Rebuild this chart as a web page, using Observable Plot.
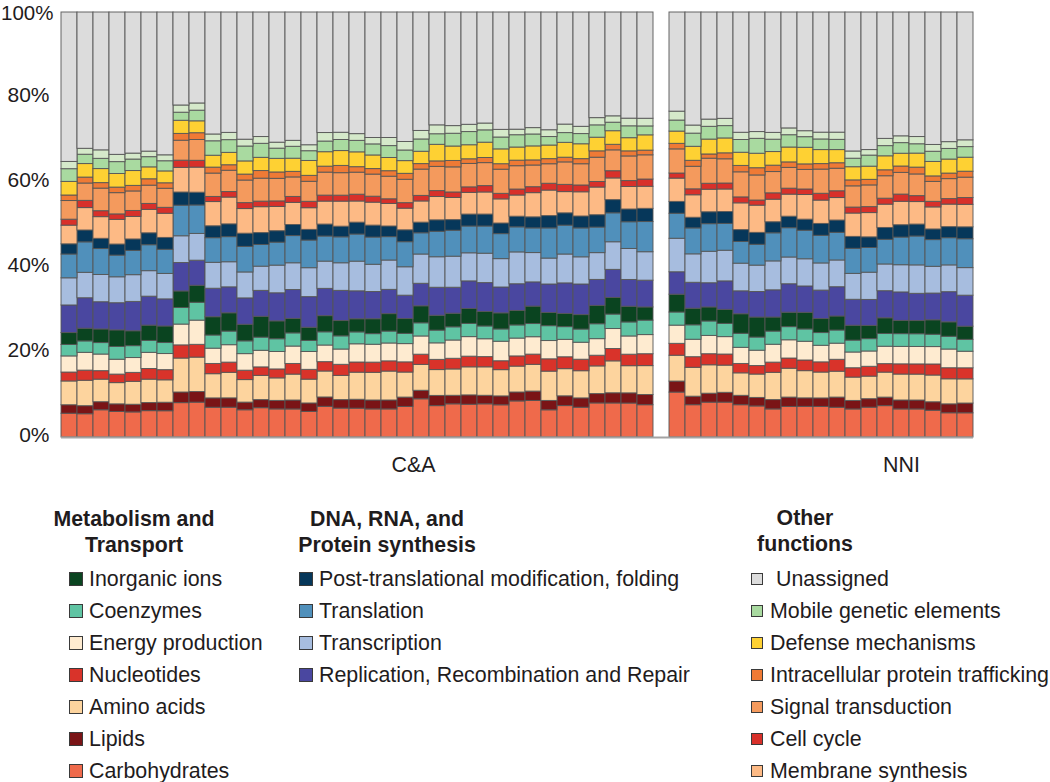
<!DOCTYPE html>
<html><head><meta charset="utf-8">
<script src="https://cdn.jsdelivr.net/npm/d3@7"></script>
<script src="https://cdn.jsdelivr.net/npm/@observablehq/plot@0.6"></script>
<style>
body{margin:0;background:#fff;font-family:"Liberation Sans",Arial,sans-serif;color:#1f1c1d;}
#wrap{position:relative;width:1050px;height:782px;overflow:hidden;}
#chart{position:absolute;left:0;top:0;}
.lg-head{position:absolute;font-weight:bold;font-size:21.3px;line-height:26px;text-align:center;white-space:nowrap;transform:translateX(-50%);}
.lg-item{position:absolute;font-size:21.4px;white-space:nowrap;height:24px;line-height:24px;}
.sw{position:absolute;box-sizing:border-box;border:1px solid #3a3a3a;}
</style></head>
<body><div id="wrap"><div id="chart"></div></div>
<script>
// ---- groups / samples ----
const groups = ["C&A", "NNI"];
const groupSizes = [37, 19];

// ---- series (bottom to top of each stack) ----
const seriesNames = [
  "Carbohydrates", "Lipids", "Amino acids", "Nucleotides", "Energy production", "Coenzymes", "Inorganic ions",
  "Replication, Recombination and Repair", "Transcription", "Translation", "Post-translational modification, folding",
  "Membrane synthesis", "Cell cycle", "Signal transduction", "Intracellular protein trafficking",
  "Defense mechanisms", "Mobile genetic elements", "Other (unlabelled)", "Unassigned"
];
const seriesColors = [
  "#ef6a4b", "#7a1416", "#fdd49e", "#d9332a", "#feebd0", "#5fc4a3", "#0a4420",
  "#4a47a0", "#a7bddf", "#5090bb", "#06375a",
  "#fdba85", "#d8302a", "#f49a5d", "#ef7a35",
  "#fed133", "#a9daa0", "#d5e9ca", "#dcdcdc"
];

// ---- values (%), 37 C&A samples then 19 NNI samples ----
const carbohydrates = [5.6,5.5,6.4,6.0,5.9,6.2,6.2,8.1,8.2,7.0, 7.0,6.4,6.9,6.6,6.6,6.0,7.2,6.8,6.8,6.6, 6.6,7.2,9.0,7.4,7.8,7.7,7.8,7.6,8.5,8.6, 6.4,7.4,7.0,8.0,8.0,8.0,7.6,
  10.6,7.6,8.2,8.2,7.6,7.3,6.6,7.2,7.2,7.2, 7.0,6.6,7.0,7.4,6.6,6.6,6.3,5.7,5.7];
const lipids = [2.0,1.9,1.9,1.8,1.8,1.9,2.0,2.5,2.5,2.2, 2.2,1.8,1.9,2.0,2.1,2.0,2.2,2.0,2.1,2.1, 2.1,2.2,2.0,2.4,2.0,2.2,2.0,2.1,2.1,2.2, 2.2,2.3,2.2,2.2,2.4,2.4,2.4,
  2.6,2.0,2.1,2.3,2.2,2.0,2.2,2.2,2.0,2.0, 2.4,2.0,2.0,2.0,2.1,2.1,2.0,2.1,2.3];
const aminoAcids = [5.6,6.0,5.3,5.0,5.4,5.5,5.3,8.0,8.1,5.7, 6.0,5.3,5.7,5.3,6.1,5.6,6.1,5.7,6.4,6.5, 6.8,5.9,6.1,6.1,6.2,6.6,6.7,6.2,6.1,6.3, 6.9,6.4,6.4,6.5,7.5,6.4,6.8,
  6.1,6.8,6.7,6.4,5.3,5.5,6.4,6.8,6.4,6.1, 6.1,5.5,5.3,5.9,6.1,6.1,6.3,5.9,5.7];
const nucleotides = [2.1,2.4,2.0,2.0,2.1,2.5,2.4,3.1,3.0,2.4, 2.4,2.2,2.0,2.1,2.5,2.3,2.2,2.6,2.4,2.4, 2.4,2.4,2.4,2.4,2.5,2.5,2.4,2.1,2.4,2.4, 2.9,2.8,2.7,2.5,2.9,2.7,2.8,
  2.8,2.5,2.6,2.6,2.2,2.0,2.4,2.4,2.5,2.4, 2.8,2.2,2.3,2.0,2.4,2.4,2.6,2.6,2.6];
const energyProduction = [3.8,4.2,3.9,3.5,3.5,3.8,3.8,4.9,5.7,3.6, 4.1,3.9,3.9,4.1,4.1,4.2,3.9,3.6,4.3,4.2, 4.2,4.3,4.3,3.9,4.3,4.6,4.2,4.6,4.2,4.1, 4.3,4.1,4.0,3.9,4.7,4.3,4.5,
  4.3,4.1,4.3,4.1,3.8,3.6,4.2,4.3,4.4,3.9, 3.8,3.7,3.6,4.1,4.1,4.1,4.1,4.4,3.9];
const coenzymes = [2.7,2.7,2.7,3.0,2.8,2.8,2.6,3.9,4.2,3.1, 3.2,3.0,3.1,3.0,3.1,2.6,3.1,3.1,2.8,2.5, 2.8,2.4,3.1,3.0,3.1,3.1,3.0,2.9,3.1,3.1, 3.5,3.0,3.1,3.5,3.4,3.3,3.4,
  3.1,3.4,3.4,3.1,3.3,3.1,3.1,3.1,2.9,3.0, 3.1,2.8,2.9,3.0,3.0,3.0,2.9,3.0,2.8];
const inorganicIons = [2.8,3.0,3.2,3.9,3.5,3.6,3.9,3.9,4.0,4.3, 4.3,3.9,4.9,4.2,3.4,3.1,3.8,3.6,3.1,3.5, 4.1,3.5,4.0,3.5,3.2,3.5,3.4,3.8,3.4,4.1, 3.1,3.1,3.4,4.3,3.9,3.7,3.1,
  4.2,3.9,3.3,3.3,4.6,4.7,3.3,3.4,3.9,3.3, 3.3,3.5,3.1,3.7,3.1,3.1,3.4,3.4,3.1];
const replication = [6.5,7.2,6.4,6.4,6.9,6.8,6.4,6.7,5.9,6.7, 6.1,6.2,6.1,6.6,6.8,7.2,6.4,7.1,6.6,6.4, 5.7,5.5,5.3,6.6,6.1,6.5,6.8,6.1,6.3,5.7, 6.7,7.2,7.2,6.1,6.6,6.3,6.3,
  5.3,6.1,5.7,6.7,5.4,6.0,6.4,6.7,6.2,6.7, 6.9,6.1,6.1,6.4,6.7,6.4,6.3,7.1,7.3];
const transcription = [6.4,6.0,6.4,6.1,6.3,6.0,6.0,6.3,6.3,6.1, 5.9,6.1,5.7,6.5,6.3,6.8,6.4,6.5,7.0,6.4, 6.9,6.7,6.9,7.2,7.3,6.6,6.9,6.7,7.5,6.9, 6.1,6.8,6.4,6.3,6.5,7.3,6.7,
  7.9,6.7,7.4,7.2,6.5,6.2,6.8,6.3,6.4,6.4, 6.3,6.1,6.4,6.3,6.4,6.7,6.3,6.3,6.5];
const translation = [5.6,7.2,6.1,5.1,5.7,6.1,5.7,7.2,6.7,5.8, 5.9,6.0,5.1,5.4,6.4,6.5,5.9,6.1,6.4,6.4, 5.5,5.9,5.0,6.0,6.1,6.3,6.4,5.9,5.9,5.8, 7.1,6.8,6.8,6.0,6.8,6.3,7.1,
  5.9,6.1,6.5,6.3,5.1,4.9,6.6,6.9,6.7,6.5, 6.5,5.9,5.8,5.8,6.5,6.8,6.3,6.4,6.8];
const postTranslational = [2.4,2.8,2.4,2.6,2.7,2.8,2.8,3.1,3.0,2.8, 3.0,3.1,2.8,2.7,2.6,2.5,2.8,2.5,2.8,2.8, 2.5,2.8,2.5,2.7,2.5,2.8,2.8,2.5,2.5,2.6, 2.9,2.9,2.8,2.9,3.1,3.0,3.1,
  2.8,2.5,2.8,2.8,2.8,2.8,2.6,2.7,2.6,2.8, 2.9,2.8,2.5,2.8,2.9,2.8,2.5,2.6,2.8];
const membraneSynthesis = [4.4,5.3,5.1,5.8,5.3,5.5,5.7,5.8,5.9,5.7, 6.3,5.8,6.1,5.7,5.2,5.1,5.4,5.9,5.0,5.4, 5.3,5.1,5.0,5.5,5.2,5.1,5.2,5.7,5.0,5.7, 6.0,5.0,5.7,6.5,5.1,5.3,5.2,
  5.5,5.3,5.3,5.3,6.3,6.4,5.3,5.2,5.8,5.5, 5.3,5.5,5.7,5.5,5.5,5.3,5.2,5.3,5.3];
const cellCycle = [1.4,1.7,1.4,1.3,1.4,1.4,1.4,1.7,1.6,1.2, 1.3,1.4,1.3,1.3,1.4,1.5,1.4,1.4,1.6,1.4, 1.1,1.3,1.3,1.4,1.3,1.3,1.5,1.3,1.4,1.4, 1.6,1.7,1.6,1.3,1.7,1.4,1.7,
  1.2,1.4,1.4,1.4,1.4,1.2,1.5,1.4,1.3,1.6, 1.6,1.4,1.4,1.4,1.7,1.4,1.3,1.3,1.6];
const signalTransduction = [4.4,4.1,5.3,5.0,4.6,4.3,4.5,4.7,4.9,5.5, 5.0,5.3,5.4,5.3,4.6,4.7,5.4,5.3,5.2,5.2, 5.3,5.5,6.2,5.7,5.9,5.5,5.4,5.7,5.5,5.1, 4.6,5.3,5.0,5.7,4.9,5.8,5.7,
  5.7,5.3,5.9,5.7,5.9,5.9,5.0,4.9,4.6,5.7, 5.3,5.0,5.1,5.3,5.1,5.1,4.7,4.7,4.8];
const intracellularTrafficking = [1.3,1.4,1.3,1.3,1.3,1.5,1.3,1.6,1.6,1.4, 1.3,1.4,1.8,1.5,1.3,1.4,1.4,1.7,1.3,1.3, 1.3,1.4,1.3,1.3,1.5,1.1,1.2,1.3,1.3,1.2, 1.2,1.1,1.2,1.5,1.3,1.2,1.1,
  1.3,1.4,1.0,1.4,1.5,1.7,1.5,1.3,1.3,1.3, 1.3,1.4,1.3,1.4,1.5,1.6,1.3,1.3,1.4];
const defenseMechanisms = [3.2,3.2,3.3,3.2,3.5,2.8,2.8,3.1,2.8,2.8, 2.9,3.1,3.1,3.2,3.1,3.5,3.4,3.5,3.5,3.2, 3.1,3.0,2.9,3.9,3.4,3.3,3.6,3.5,3.1,3.3, 3.2,3.5,3.5,3.2,3.2,3.1,3.6,
  2.9,3.3,3.5,3.5,3.1,3.4,3.2,3.5,3.9,3.3, 3.1,3.1,3.1,3.3,3.0,3.3,3.4,3.3,3.3];
const mobileElements = [3.0,2.2,2.4,2.8,2.7,2.4,2.4,1.9,2.5,3.4, 3.0,3.5,3.3,2.4,2.8,2.3,2.5,2.6,2.7,2.6, 2.8,2.5,2.9,2.5,3.0,3.1,2.9,2.8,2.9,2.8, 2.0,2.3,2.4,2.9,2.0,2.8,2.1,
  2.6,3.1,3.0,2.9,3.0,3.5,2.9,2.9,2.5,2.5, 2.4,2.0,2.6,2.4,2.5,2.2,2.4,2.5,2.5];
const otherUnlabelled = [1.7,1.4,2.0,1.7,1.4,1.3,1.4,1.7,1.7,1.6, 1.7,1.6,1.6,1.4,1.4,1.4,2.0,1.7,1.6,1.5, 1.9,2.0,2.0,2.1,1.8,1.7,1.6,1.8,1.3,1.5, 1.6,2.0,1.7,1.7,1.5,1.8,1.8,
  2.1,1.9,1.7,1.7,1.7,1.6,1.6,1.6,1.4,1.6, 1.7,1.7,1.3,1.7,1.6,1.7,1.6,1.6,1.6];
const unassigned = [35.2,32.2,32.4,33.5,33.2,32.7,33.7,21.9,21.4,28.7, 28.3,29.9,29.3,30.6,30.2,31.2,28.3,28.3,28.7,29.5, 29.5,30.5,27.9,26.6,26.7,26.4,26.1,27.7,27.6,27.2, 27.7,26.4,26.9,24.8,24.4,25.0,25.0,
  23.4,26.6,25.2,25.0,28.3,28.1,28.3,27.3,27.9,28.3, 28.3,32.7,32.3,29.8,29.1,29.3,31.2,30.5,30.1];

const seriesValues = [carbohydrates, lipids, aminoAcids, nucleotides, energyProduction, coenzymes, inorganicIons,
  replication, transcription, translation, postTranslational, membraneSynthesis, cellCycle, signalTransduction,
  intracellularTrafficking, defenseMechanisms, mobileElements, otherUnlabelled, unassigned];

// ---- y tick labels ----
const yTicksLower = [0, 0.2, 0.4, 0.6, 0.8];
const yTicksTop = [1];

// ---- legend groups ----
const legendGroups = [
  {title: ["Metabolism and", "Transport"], items: ["Inorganic ions", "Coenzymes", "Energy production", "Nucleotides", "Amino acids", "Lipids", "Carbohydrates"]},
  {title: ["DNA, RNA, and", "Protein synthesis"], items: ["Post-translational modification, folding", "Translation", "Transcription", "Replication, Recombination and Repair"]},
  {title: ["Other", "functions"], items: ["Unassigned", "Mobile genetic elements", "Defense mechanisms", "Intracellular protein trafficking", "Signal transduction", "Cell cycle", "Membrane synthesis"]}
];

// ---- build table ----
const sampleIds = [];
groups.forEach((g, gi) => {
  for (let i = 1; i <= groupSizes[gi]; i++) sampleIds.push(g + "-" + i);
});
const xDomain = [...sampleIds.slice(0, groupSizes[0]), "gap", ...sampleIds.slice(groupSizes[0])];
const rows = [];
seriesNames.forEach((name, si) => {
  sampleIds.forEach((id, i) => rows.push({id, series: name, value: seriesValues[si][i]}));
});
const groupLabelRows = [
  {id: xDomain[21], label: groups[0]},
  {id: xDomain[52], label: groups[1]}
];

const chart = Plot.plot({
  width: 1050, height: 490,
  marginLeft: 61, marginRight: 77, marginTop: 12, marginBottom: 53,
  style: {fontFamily: '"Liberation Sans", Arial, sans-serif', fontSize: "21px", color: "#1f1c1d", background: "#fff", overflow: "visible"},
  x: {type: "band", domain: xDomain, padding: 0, axis: null},
  y: {domain: [0, 1], label: null},
  color: {domain: seriesNames, range: seriesColors},
  marks: [
    Plot.barY(rows, Plot.stackY({x: "id", y: "value", fill: "series", order: seriesNames, offset: "normalize",
      stroke: "#555", strokeWidth: 1, strokeOpacity: 0.9})),
    Plot.ruleY([0], {stroke: "#a3a3a3", strokeWidth: 2}),
    Plot.axisY({ticks: yTicksLower, tickFormat: d3.format(".0%"), tickSize: 0, tickPadding: 12, fontSize: 21, dy: -2, label: null}),
    Plot.axisY({ticks: yTicksTop, tickFormat: d3.format(".0%"), tickSize: 0, tickPadding: 8, fontSize: 20.5, dy: 1, label: null}),
    Plot.text(groupLabelRows.slice(0, 1), {x: "id", y: () => 0, text: "label", dy: 28, dx: 8, fontSize: 21.4}),
    Plot.text(groupLabelRows.slice(1), {x: "id", y: () => 0, text: "label", dy: 28, fontSize: 21.4})
  ]
});
document.getElementById("chart").appendChild(chart);

// ---- legend (HTML below the svg) ----
const wrap = document.getElementById("wrap");
const colorOf = name => seriesColors[seriesNames.indexOf(name)];
const legendLayout = [
  {headX: 134, headY: 506, swX: 69, sw: 14, textX: 89},
  {headX: 387, headY: 506, swX: 299, sw: 14, textX: 319},
  {headX: 805, headY: 505, swX: 751, sw: 12, textX: 770}
];
legendGroups.forEach((grp, gi) => {
  const L = legendLayout[gi];
  const h = document.createElement("div");
  h.className = "lg-head";
  h.style.left = L.headX + "px";
  h.style.top = L.headY + "px";
  h.innerHTML = grp.title.map(t => t.replace(/&/g, "&amp;")).join("<br>");
  wrap.appendChild(h);
  grp.items.forEach((name, ii) => {
    const cy = 579 + ii * 32;
    const s = document.createElement("div");
    s.className = "sw";
    s.style.left = L.swX + "px";
    s.style.top = (cy - L.sw / 2) + "px";
    s.style.width = L.sw + "px";
    s.style.height = L.sw + "px";
    s.style.background = colorOf(name);
    wrap.appendChild(s);
    const t = document.createElement("div");
    t.className = "lg-item";
    t.style.left = (L.textX + (name === "Unassigned" ? 6 : 0)) + "px";
    t.style.top = (cy - 12) + "px";
    t.textContent = name;
    wrap.appendChild(t);
  });
});
</script>
</body></html>
